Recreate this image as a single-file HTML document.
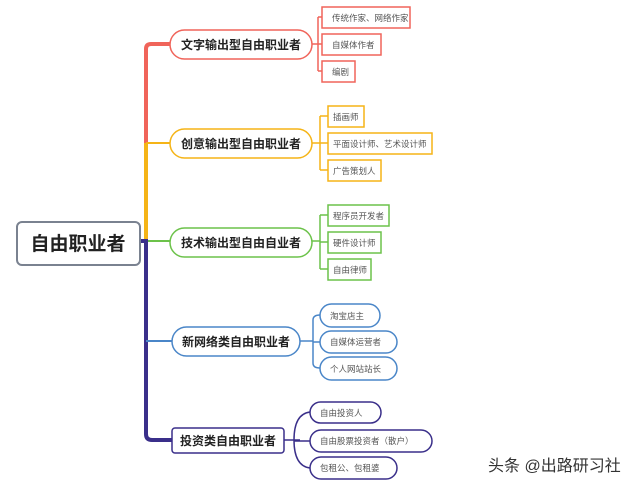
<!DOCTYPE html>
<html><head><meta charset="utf-8"><style>
body{margin:0;background:#fff;width:640px;height:488px;overflow:hidden;font-family:"Liberation Sans","Noto Sans CJK SC",sans-serif}
</style></head><body>
<svg width="640" height="488" viewBox="0 0 640 488" xmlns="http://www.w3.org/2000/svg" font-family="Liberation Sans, Noto Sans CJK SC, sans-serif">
<rect width="640" height="488" fill="#fff"/>
<path d="M170 44 H151 Q146 44 146 49 V143" stroke="#f0645a" stroke-width="4" fill="none"/>
<path d="M146 143 V241" stroke="#f5b417" stroke-width="4" fill="none"/>
<path d="M146 143 H170" stroke="#f5b417" stroke-width="2" fill="none"/>
<path d="M146 241 H170" stroke="#6cc24a" stroke-width="2" fill="none"/>
<path d="M140 241 H146 V434 Q146 440 152 440 H172" stroke="#3a2f8a" stroke-width="4" fill="none"/>
<path d="M146 341 H172" stroke="#4a86c8" stroke-width="2" fill="none"/>
<rect x="17" y="222" width="123" height="43" rx="5" fill="#fff" stroke="#7a8290" stroke-width="2"/>
<text x="78" y="250" font-size="19" font-weight="bold" text-anchor="middle" fill="#222">自由职业者</text>
<g stroke="#f0645a" stroke-width="1.5" fill="none">
<path d="M312 44 H318 M318 17 V71 M318 17 H322 M318 44 H322 M318 71 H322"/>
<rect x="170" y="30" width="142" height="29" rx="14.5" fill="#fff"/>
<rect x="322" y="7" width="88" height="21" fill="#fff"/>
<rect x="322" y="34" width="59" height="21" fill="#fff"/>
<rect x="322" y="61" width="33" height="21" fill="#fff"/>
</g>
<g stroke="#f5b417" stroke-width="1.5" fill="none">
<path d="M312 143 H320 M320 116 V170 M320 116 H328 M320 143 H328 M320 170 H328"/>
<rect x="170" y="129" width="142" height="29" rx="14.5" fill="#fff"/>
<rect x="328" y="106" width="36" height="21" fill="#fff"/>
<rect x="328" y="133" width="104" height="21" fill="#fff"/>
<rect x="328" y="160" width="53" height="21" fill="#fff"/>
</g>
<g stroke="#6cc24a" stroke-width="1.5" fill="none">
<path d="M312 241 H320 M320 215 V269 M320 215 H328 M320 242 H328 M320 269 H328"/>
<rect x="170" y="228" width="142" height="29" rx="14.5" fill="#fff"/>
<rect x="328" y="205" width="61" height="21" fill="#fff"/>
<rect x="328" y="232" width="53" height="21" fill="#fff"/>
<rect x="328" y="259" width="43" height="21" fill="#fff"/>
</g>
<g stroke="#4a86c8" stroke-width="1.5" fill="none">
<path d="M300 341 H313 M313 320 Q313 315 320 315 M313 320 V363 Q313 368 320 368 M313 342 H320"/>
<rect x="172" y="327" width="128" height="29" rx="14.5" fill="#fff"/>
<rect x="320" y="304" width="60" height="23" rx="11.5" fill="#fff"/>
<rect x="320" y="331" width="77" height="22" rx="11" fill="#fff"/>
<rect x="320" y="357" width="77" height="23" rx="11.5" fill="#fff"/>
</g>
<g stroke="#3a2f8a" stroke-width="1.5" fill="none">
<path d="M284 440 H300 M310 412 Q294 414 294 440 Q294 466 310 468 M294 441 H310"/>
<rect x="172" y="428" width="112" height="25" rx="3" fill="#fff"/>
<rect x="310" y="402" width="71" height="21" rx="10.5" fill="#fff"/>
<rect x="310" y="430" width="122" height="22" rx="11" fill="#fff"/>
<rect x="310" y="457" width="87" height="22" rx="11" fill="#fff"/>
</g>
<g font-size="12" font-weight="bold" fill="#222" text-anchor="middle">
<text x="241" y="49">文字输出型自由职业者</text>
<text x="241" y="148">创意输出型自由职业者</text>
<text x="241" y="247">技术输出型自由自业者</text>
<text x="236" y="346">新网络类自由职业者</text>
<text x="228" y="445">投资类自由职业者</text>
</g>
<g font-size="8.5" fill="#555">
<text x="332" y="21">传统作家、网络作家</text>
<text x="332" y="48">自媒体作者</text>
<text x="332" y="75">编剧</text>
<text x="333" y="120">插画师</text>
<text x="333" y="147">平面设计师、艺术设计师</text>
<text x="333" y="174">广告策划人</text>
<text x="333" y="219">程序员开发者</text>
<text x="333" y="246">硬件设计师</text>
<text x="333" y="273">自由律师</text>
<text x="330" y="319">淘宝店主</text>
<text x="330" y="345">自媒体运营者</text>
<text x="330" y="372">个人网站站长</text>
<text x="320" y="416">自由投资人</text>
<text x="320" y="444">自由股票投资者（散户）</text>
<text x="320" y="471">包租公、包租婆</text>
</g>
<text x="488" y="471" font-size="16" fill="#333">头条 @出路研习社</text>
</svg>
</body></html>
